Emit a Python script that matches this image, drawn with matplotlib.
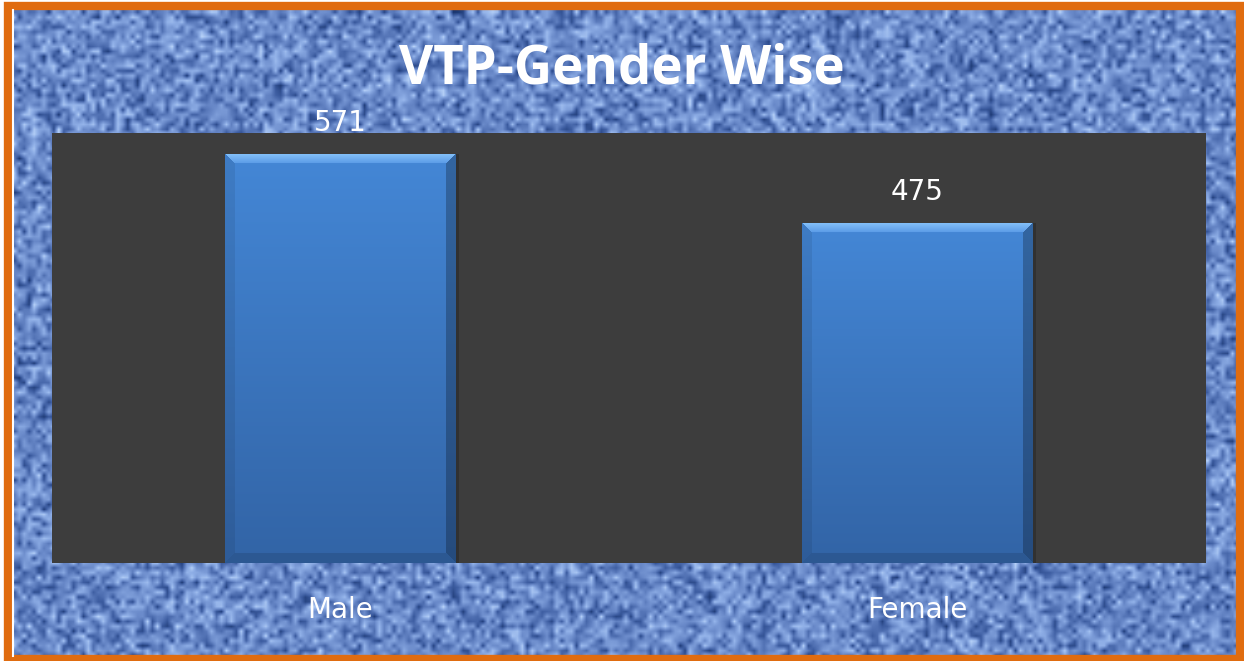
import numpy as np
import matplotlib
matplotlib.use("Agg")
import matplotlib.pyplot as plt
from matplotlib.colors import LinearSegmentedColormap, to_rgb
from matplotlib.patches import Rectangle

# ---- data ----
categories = ["Male", "Female"]
values = [571, 475]
title = "VTP-Gender Wise"

W, H = 1244, 661
fig = plt.figure(figsize=(W / 100, H / 100), dpi=100, facecolor="white")

# ---- textured background (decorative burlap weave) ----
bg = fig.add_axes([0, 0, 1, 1], zorder=-5)
bg.set_xlim(0, W)
bg.set_ylim(H, 0)
bg.axis("off")
blk = 5
gh, gw = H // blk + 1, W // blk + 1
ii, jj = np.mgrid[0:gh, 0:gw]
def hnoise(a, b, s):
    v = np.sin(a * 12.9898 + b * 78.233 + s) * 43758.5453
    return v - np.floor(v)
row_n = hnoise(ii, 0 * jj + (jj // 2), 1.0)
col_n = hnoise(0 * ii + (ii // 2), jj, 7.0)
pix_n = hnoise(ii, jj, 3.0)
weave = np.where((ii + jj) % 2 == 0, row_n, col_n)
tex = 0.5 * weave + 0.5 * pix_n
cmap_tex = LinearSegmentedColormap.from_list(
    "tex", ["#1a3670", "#3e5ea2", "#6888c8", "#8eaee6", "#bcd6fa"])
bg.imshow(tex, cmap=cmap_tex, extent=(12, W - 4, H - 3, 10),
          interpolation="bilinear", aspect="auto", zorder=0)
# orange frame
bg.add_patch(Rectangle((8, 6), W - 12, H - 8, fill=False,
                       edgecolor="#e06c10", linewidth=6, zorder=2))
bg.plot([13, 13], [10, H - 5], color="white", lw=1.5, zorder=3)

# ---- main axes ----
L, R, T, B = 52, 1206, 133, 563
ax = fig.add_axes([L / W, 1 - B / H, (R - L) / W, (B - T) / H])
ax.set_facecolor("#3d3d3d")
for s in ax.spines.values():
    s.set_visible(False)
ax.set_xlim(-0.5, len(categories) - 0.5)
ax.set_ylim(0, 600)
x = np.arange(len(categories))
bars = ax.bar(x, values, width=0.4, color="#3c78c4", zorder=2)

ax.set_yticks([])
ax.set_xticks(x)
ax.set_xticklabels(categories, color="white", fontsize=20,
                   family="DejaVu Sans")
ax.tick_params(axis="x", length=0, pad=24)

# bevel / gradient fill for bars
fig.canvas.draw()
def hexrgb(c):
    return np.array(to_rgb(c))
for b in bars:
    x0, y0 = b.get_x(), b.get_y()
    w, h = b.get_width(), b.get_height()
    p0 = ax.transData.transform((x0, y0))
    p1 = ax.transData.transform((x0 + w, y0 + h))
    wp, hp = int(round(p1[0] - p0[0])), int(round(p1[1] - p0[1]))
    yy, xx = np.mgrid[0:hp, 0:wp].astype(float)   # row 0 = top of bar
    t = yy / max(hp - 1, 1)
    top_c, bot_c = hexrgb("#4487d6"), hexrgb("#3264a6")
    img = top_c[None, None, :] * (1 - t[..., None]) + bot_c[None, None, :] * t[..., None]
    bev = 10.0
    d_t, d_b = yy, (hp - 1 - yy)
    d_l, d_r = xx, (wp - 1 - xx)
    dmin = np.minimum(np.minimum(d_t, d_b), np.minimum(d_l, d_r))
    inb = dmin < bev
    top_face = inb & (d_t == dmin)
    bot_face = inb & (d_b == dmin) & ~top_face
    left_face = inb & (d_l == dmin) & ~top_face & ~bot_face
    right_face = inb & (d_r == dmin) & ~top_face & ~bot_face & ~left_face
    img[left_face] = img[left_face] * 0.92
    img[right_face] = img[right_face] * 0.75
    img[bot_face] = img[bot_face] * 0.88
    tf = np.clip(1 - d_t / bev, 0, 1)
    light = hexrgb("#86c2fa")
    mid = hexrgb("#5a9ae6")
    topcol = mid[None, None, :] * (1 - tf[..., None]) + light[None, None, :] * tf[..., None]
    img[top_face] = topcol[top_face]
    im = ax.imshow(img, extent=(x0, x0 + w, y0, y0 + h), origin="upper",
                   aspect="auto", interpolation="bilinear", zorder=3)
    im.set_clip_path(b)
    # soft shadow on right side
    ax.add_patch(Rectangle((x0 + w, y0), w * 0.012, h, color="#2a2a2a",
                           alpha=0.6, zorder=1.5, linewidth=0))

for xi, v in zip(x, values):
    ax.annotate(f"{v}", (xi, v), xytext=(0, 22), textcoords="offset points",
                ha="center", va="center", color="white", fontsize=20,
                family="DejaVu Sans", annotation_clip=False, zorder=5)
ax.set_ylim(0, 600)
ax.set_xlim(-0.5, len(categories) - 0.5)

fig.text(0.5, 1 - 69 / H, title, ha="center", va="center", color="white",
         fontsize=38, fontweight="bold", family="Open Sans")

fig.savefig("out.png", dpi=100, facecolor="white")
